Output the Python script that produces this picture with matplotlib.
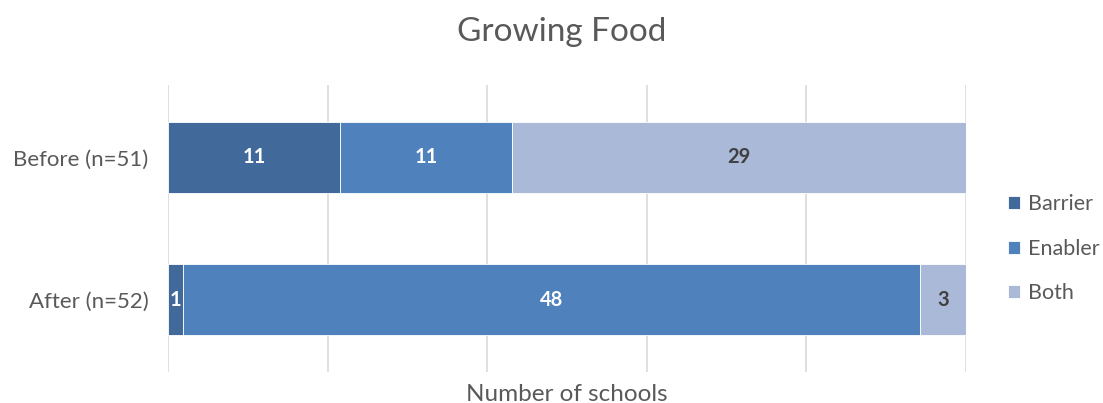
import matplotlib.pyplot as plt
import numpy as np

plt.rcParams['font.family'] = ['Lato', 'DejaVu Sans']

categories = ['After (n=52)', 'Before (n=51)']
barrier = [1, 11]
enabler = [48, 11]
both = [3, 29]
series_names = ['Barrier', 'Enabler', 'Both']
colors = ['#41699A', '#4F81BD', '#A9B9D7']
text_colors = ['white', 'white', '#404040']

fig = plt.figure(figsize=(11.03, 4.03), dpi=100)
ax = fig.add_axes([0.1523, 0.077, 0.7235, 0.712])

series = [barrier, enabler, both]
totals = np.sum(series, axis=0)
y = np.arange(len(categories))
left = np.zeros(len(categories))
for vals, name, c, tc in zip(series, series_names, colors, text_colors):
    vals = np.array(vals)
    share = vals / totals * 100
    bars = ax.barh(y, share, 0.5, left=left, color=c, edgecolor='white',
                   linewidth=0.6, label=name, zorder=3)
    for b, v in zip(bars, vals):
        ax.text(b.get_x() + b.get_width() / 2, b.get_y() + b.get_height() / 2,
                str(v), ha='center', va='center', color=tc,
                fontsize=14.5, fontweight='bold', zorder=4)
    left += share

ax.set_xlim(0, 100)
ax.set_ylim(-0.51, 1.51)
ax.set_xticks([0, 20, 40, 60, 80, 100])
ax.set_xticklabels([])
ax.tick_params(axis='x', length=0)
ax.tick_params(axis='y', length=0, pad=14, labelsize=16, labelcolor='#595959')
ax.set_yticks(y)
ax.set_yticklabels(categories)
ax.grid(axis='x', color='#D9D9D9', linewidth=1.2, zorder=0)
for s in ax.spines.values():
    s.set_visible(False)

ax.set_xlabel('Number of schools', fontsize=17.5, color='#595959', labelpad=5)
fig.text(0.509, 0.92, 'Growing Food', ha='center', va='center',
         fontsize=24, color='#595959')

fig.legend(loc='center left', bbox_to_anchor=(0.914, 0.383), frameon=False,
           fontsize=15.5, labelcolor='#595959', handlelength=0.55,
           handleheight=0.55, handletextpad=0.35, labelspacing=1.15,
           borderpad=0, borderaxespad=0)

fig.savefig('out.png', dpi=100)
